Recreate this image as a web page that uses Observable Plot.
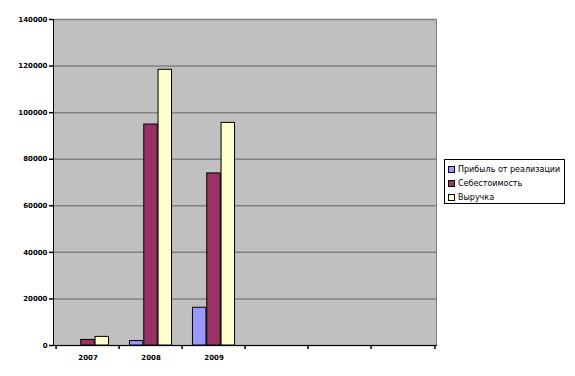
<!DOCTYPE html>
<html><head><meta charset="utf-8">
<script src="https://cdn.jsdelivr.net/npm/d3@7"></script>
<script src="https://cdn.jsdelivr.net/npm/@observablehq/plot@0.6"></script>
<style>
body{margin:0;background:#fff;}
#wrap{position:relative;width:575px;height:376px;}
#legend{position:absolute;left:444px;top:159px;width:121px;height:45px;border:1px solid #000;background:#fff;font-family:"DejaVu Sans",sans-serif;font-size:8px;color:#000;box-sizing:border-box;padding:2px 0 0 3px;}
#legend .it{display:flex;align-items:center;height:14px;white-space:nowrap;}
#legend .sw{width:5px;height:5px;border:1px solid #000;margin-right:3px;flex:none;}
</style></head><body><div id="wrap"></div>
<script>
const categories = ["2007","2008","2009"," ","  ","   "];
const series = ["Прибыль от реализации","Себестоимость","Выручка"];
const profit = [0, 1900, 16200];
const cost = [2400, 94900, 73900];
const revenue = [3700, 118400, 95600];
const colors = ["#9999ff","#993366","#ffffcc"];
const yTicks = [0,20000,40000,60000,80000,100000,120000,140000];

const values = [profit, cost, revenue];
const W = 575, H = 376, mL = 53, mR = 139, mT = 19, mB = 31;
const bw = (W - mL - mR) / categories.length;
const barW = 14.3;
const off = (bw - 3 * barW) / 2;

const barMarks = series.map((s, i) => {
  const data = values[i].map((v, j) => ({cat: categories[j], v}));
  return Plot.barY(data, {
    x: "cat", y: "v", fill: colors[i], stroke: "#000", strokeWidth: 1,
    insetLeft: off + i * barW, insetRight: bw - off - (i + 1) * barW
  });
});

const chart = Plot.plot({
  width: W, height: H,
  marginLeft: mL, marginRight: mR, marginTop: mT, marginBottom: mB,
  style: {fontFamily: "DejaVu Sans", background: "transparent"},
  x: {type: "band", domain: categories, padding: 0},
  y: {domain: [0, 140000]},
  marks: [
    Plot.frame({fill: "#c0c0c0", stroke: "#808080"}),
    Plot.gridY({ticks: yTicks, stroke: "#808080", strokeOpacity: 1, strokeWidth: 1.5}),
    ...barMarks,
    Plot.frame({anchor: "left", stroke: "#000"}),
    Plot.frame({anchor: "bottom", stroke: "#000"}),
    Plot.ruleX(categories, {x: d => d, dx: -bw / 2, insetTop: H - mT - mB, insetBottom: -4, stroke: "#000", strokeWidth: 1.5}),
    Plot.ruleX([categories[categories.length - 1]], {x: d => d, dx: bw / 2, insetTop: H - mT - mB, insetBottom: -4, stroke: "#000", strokeWidth: 1.5}),
    Plot.axisY({ticks: yTicks, tickSize: 4, tickPadding: 2, tickFormat: d => String(d), fontSize: 7, fontWeight: "bold", label: null, stroke: "#000", strokeWidth: 1.5}),
    Plot.axisX({tickSize: 0, tickPadding: 10, fontSize: 7, fontWeight: "bold", label: null})
  ]
});

const wrap = document.getElementById("wrap");
wrap.appendChild(chart);
const legend = document.createElement("div");
legend.id = "legend";
series.forEach((s, i) => {
  const it = document.createElement("div");
  it.className = "it";
  const sw = document.createElement("span");
  sw.className = "sw";
  sw.style.background = colors[i];
  const t = document.createElement("span");
  t.textContent = s;
  it.appendChild(sw); it.appendChild(t);
  legend.appendChild(it);
});
wrap.appendChild(legend);
</script></body></html>
